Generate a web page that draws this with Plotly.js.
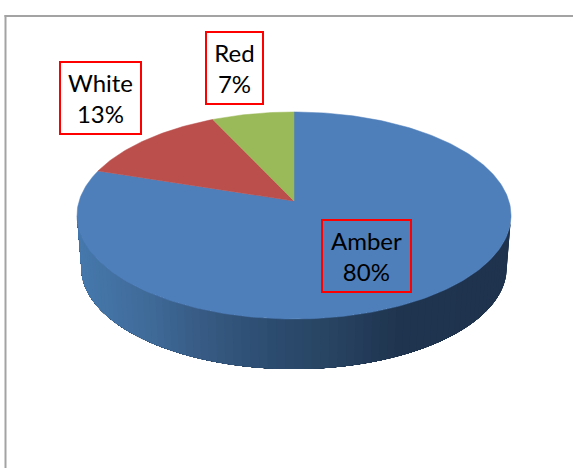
<!DOCTYPE html>
<html>
<head>
<meta charset="utf-8">
<script src="https://cdn.plot.ly/plotly-3.0.1.min.js"></script>
<style>html,body{margin:0;padding:0;background:#fff;overflow:hidden}#chart{width:573px;height:468px}</style>
</head>
<body>
<div id="chart"></div>
<script>
// Share of each status, clockwise from twelve o'clock
const categories = ['Amber', 'White', 'Red'];
const shares = [80, 13, 7];
const sliceColors = ['#4f7fba', '#ba4f4c', '#9ab958'];

// Label boxes, in the same order as the categories: centre and size in plot units
const labelX = [366, 100, 234];
const labelY = [255.5, 97.5, 67.5];
const labelW = [87, 79, 55];
const labelH = [70, 70, 70];

// Shading of the pie's outer wall from left to right
const wallStopX = [80, 150, 200, 280, 330, 400, 510];
const wallStopRGB = [[70,120,172],[63,106,152],[55,91,132],[43,74,109],[40,68,98],[31,52,79],[31,51,78]];

// Tilted disc: perspective projection of a unit circle
const cx = 294, cy = 201, depthK = 0.14, radX = 214.9, radY = 101.5;
const wallDrop = 52.4, wallScale = 0.98;

function rim(deg, lower) {
  const t = deg * Math.PI / 180, u = Math.sin(t), v = Math.cos(t), d = 1 + depthK * v;
  const s = lower ? wallScale : 1;
  return [cx + s * radX * u / d, cy + (lower ? wallDrop : 0) - s * radY * v / d];
}

function wallColor(x) {
  let i = 0;
  while (i < wallStopX.length - 2 && x > wallStopX[i + 1]) i++;
  const f = Math.max(0, Math.min(1, (x - wallStopX[i]) / (wallStopX[i + 1] - wallStopX[i])));
  const c = wallStopRGB[i].map((a, k) => Math.round(a + f * (wallStopRGB[i + 1][k] - a)));
  return `rgb(${c.join(',')})`;
}

const traces = [];

// Outer wall: overlapping bands drawn from the right end leftwards, each one
// reaching from its own start to the far end, so no seams show between them
const wallFrom = Math.acos(-depthK) * 180 / Math.PI, wallTo = 360 - wallFrom, strips = 80;
for (let i = 0; i < strips; i++) {
  const a = wallFrom + (wallTo - wallFrom) * i / strips;
  const mid = wallFrom + (wallTo - wallFrom) * (i + 0.5) / strips;
  const xs = [], ys = [];
  const steps = Math.max(2, Math.ceil((wallTo - a) / 2));
  for (let k = 0; k <= steps; k++) {
    const p = rim(a + (wallTo - a) * k / steps, false);
    xs.push(p[0]); ys.push(p[1]);
  }
  for (let k = steps; k >= 0; k--) {
    const p = rim(a + (wallTo - a) * k / steps, true);
    xs.push(p[0]); ys.push(p[1]);
  }
  xs.push(xs[0]); ys.push(ys[0]);
  traces.push({
    type: 'scatter', mode: 'none', fill: 'toself', fillcolor: wallColor(rim(mid, false)[0]),
    x: xs, y: ys, hoverinfo: 'skip', showlegend: false
  });
}

// Top face, one wedge per category
const total = shares.reduce((s, v) => s + v, 0);
let start = 0;
shares.forEach((value, i) => {
  const sweep = value / total * 360;
  const steps = Math.ceil(sweep);
  const xs = [cx], ys = [cy];
  for (let k = 0; k <= steps; k++) {
    const p = rim(start + sweep * k / steps, false);
    xs.push(p[0]); ys.push(p[1]);
  }
  xs.push(cx); ys.push(cy);
  traces.push({
    type: 'scatter', mode: 'lines', fill: 'toself', fillcolor: sliceColors[i],
    x: xs, y: ys, name: categories[i],
    line: {color: sliceColors[i], width: 0.5}, hoverinfo: 'name', showlegend: false
  });
  start += sweep;
});

const annotations = categories.map((name, i) => ({
  xref: 'x', yref: 'y', x: labelX[i], y: labelY[i],
  text: `${name}<br>${shares[i]}%`, showarrow: false,
  width: labelW[i], height: labelH[i], borderpad: 0, borderwidth: 2, bordercolor: '#ff0000',
  align: 'center', valign: 'middle', xanchor: 'center', yanchor: 'middle',
  font: {family: 'Lato, Carlito, sans-serif', size: 24, color: '#000000'}
}));

const layout = {
  width: 573, height: 468,
  margin: {l: 0, r: 0, t: 0, b: 0},
  paper_bgcolor: '#ffffff', plot_bgcolor: '#ffffff',
  xaxis: {range: [0, 573], visible: false, fixedrange: true},
  yaxis: {range: [468, 0], visible: false, fixedrange: true},
  annotations: annotations,
  shapes: [
    // Chart area frame, open towards the right and bottom
    {type: 'line', xref: 'x', yref: 'y', x0: 5.5, x1: 5.5, y0: 15, y1: 468, line: {color: '#a3a3a3', width: 2}},
    {type: 'line', xref: 'x', yref: 'y', x0: 4.5, x1: 573, y0: 16, y1: 16, line: {color: '#a3a3a3', width: 2}}
  ]
};

Plotly.newPlot('chart', traces, layout, {displayModeBar: false, staticPlot: true});
</script>
</body>
</html>
